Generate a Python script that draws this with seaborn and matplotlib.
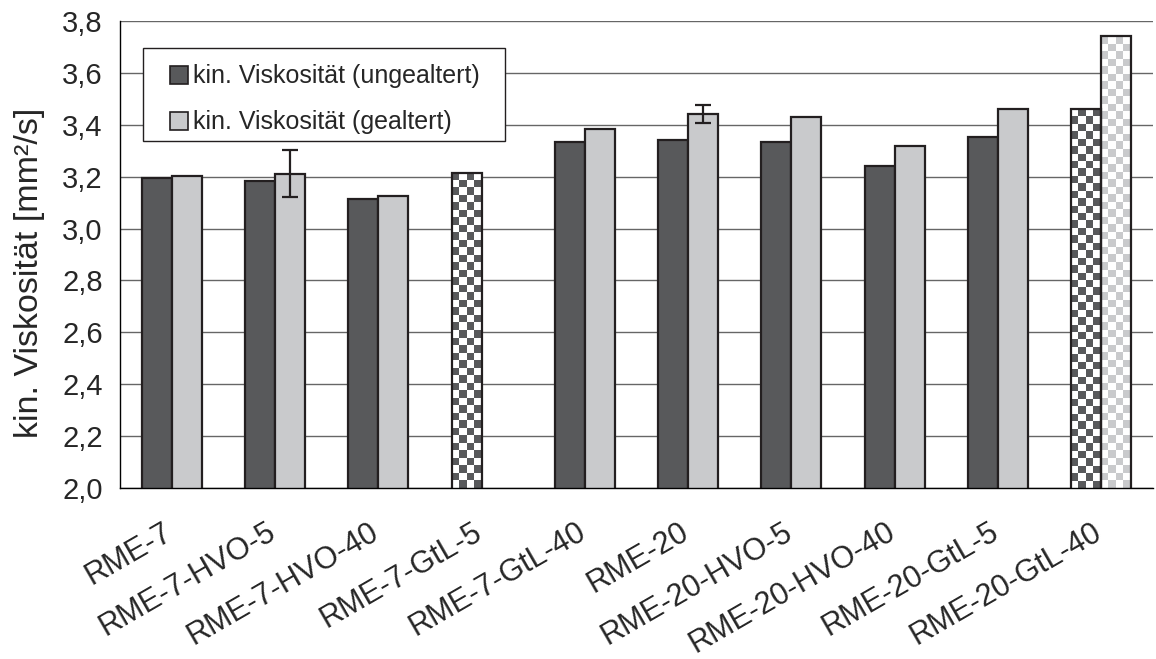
import numpy as np
import pandas as pd
import seaborn as sns
import matplotlib.pyplot as plt
import matplotlib.transforms as mtransforms
from matplotlib.colors import ListedColormap
from matplotlib.patches import Patch, Rectangle

categories = ['RME-7', 'RME-7-HVO-5', 'RME-7-HVO-40', 'RME-7-GtL-5', 'RME-7-GtL-40',
              'RME-20', 'RME-20-HVO-5', 'RME-20-HVO-40', 'RME-20-GtL-5', 'RME-20-GtL-40']
series = ['kin. Viskosität (ungealtert)', 'kin. Viskosität (gealtert)']
fresh = [3.195, 3.185, 3.115, 3.215, 3.333, 3.342, 3.333, 3.240, 3.352, 3.459]
aged = [3.202, 3.212, 3.127, np.nan, 3.383, 3.440, 3.429, 3.318, 3.460, 3.741]
aged_err = [0, 0.09, 0, 0, 0, 0.035, 0, 0, 0, 0]
checkered_fresh = ['RME-7-GtL-5', 'RME-20-GtL-40']
checkered_aged = ['RME-20-GtL-40']
yticks = [2.0, 2.2, 2.4, 2.6, 2.8, 3.0, 3.2, 3.4, 3.6, 3.8]
ylabel = 'kin. Viskosität [mm²/s]'

dark = '#58595b'
light = '#c9cacc'
edge = '#231f20'

df = pd.DataFrame({
    'Kraftstoff': categories * 2,
    'Serie': [series[0]] * len(categories) + [series[1]] * len(categories),
    'Wert': fresh + aged,
}).dropna()

sns.set_style('white')
plt.rcParams['font.family'] = ['Liberation Sans', 'DejaVu Sans']

fig = plt.figure(figsize=(11.56, 6.59), dpi=100)
ax = fig.add_axes([0.1038, 0.2595, 0.8935, 0.7087])

sns.barplot(data=df, x='Kraftstoff', y='Wert', hue='Serie', order=categories,
            hue_order=series, palette=[dark, light], width=0.58,
            edgecolor=edge, linewidth=1.6, saturation=1, legend=False, ax=ax)

ax.set_xlim(-0.5, len(categories) - 0.5)
ax.set_ylim(yticks[0], yticks[-1])

# map bars to (series, category) via their x positions
bars = {}
for si, cont in enumerate(ax.containers):
    for bar in cont:
        if np.isnan(bar.get_height()):
            continue
        ci = int(round(bar.get_x() + bar.get_width() / 2 - (si - 0.5) * 0.29))
        bars[(si, categories[ci])] = bar


def checker(bar, color):
    x0, w, h = bar.get_x(), bar.get_width(), bar.get_height()
    y0 = yticks[0]
    p0 = ax.transData.transform((x0, y0))
    p1 = ax.transData.transform((x0 + w, h))
    nx = 4
    cell = (p1[0] - p0[0]) / nx
    ny = max(1, int(round((p1[1] - p0[1]) / cell)))
    img = np.indices((ny, nx)).sum(axis=0) % 2
    im = ax.imshow(img, cmap=ListedColormap(['white', color]), extent=(x0, x0 + w, y0, h),
                   origin='lower', aspect='auto', interpolation='nearest',
                   zorder=bar.get_zorder() - 0.05)
    im.set_clip_path(bar)
    bar.set_facecolor('none')


for c in checkered_fresh:
    checker(bars[(0, c)], dark)
for c in checkered_aged:
    checker(bars[(1, c)], light)

# error bars on aged series
for c, e in zip(categories, aged_err):
    if e > 0 and (1, c) in bars:
        b = bars[(1, c)]
        ax.errorbar(b.get_x() + b.get_width() / 2, b.get_height(), yerr=e,
                    fmt='none', ecolor=edge, elinewidth=1.6, capsize=5.5, capthick=1.6, zorder=5)

ax.set_xlim(-0.5, len(categories) - 0.5)
ax.set_ylim(yticks[0], yticks[-1])

ax.set_yticks(yticks)
ax.set_yticklabels([f'{v:.1f}'.replace('.', ',') for v in yticks], fontsize=21)
ax.yaxis.grid(True, color='#666666', linewidth=1.0)
ax.set_axisbelow(True)

ax.set_xticks(range(len(categories)))
ax.set_xticklabels(categories, fontsize=22, rotation=30, ha='right', rotation_mode='anchor')
ax.set_xticks(np.arange(-0.5, len(categories), 1), minor=True)
ax.tick_params(axis='x', which='major', length=0, pad=21)
ax.tick_params(axis='x', which='minor', length=6, width=1, color='black', direction='out')
ax.tick_params(axis='y', length=6.5, width=1, color='black', direction='out', pad=6)
offset = mtransforms.ScaledTranslation(-0.09, 0, fig.dpi_scale_trans)
for lab in ax.get_xticklabels():
    lab.set_transform(lab.get_transform() + offset)

ax.set_xlabel('')
ax.set_ylabel(ylabel, fontsize=24.5)
ax.yaxis.set_label_coords(-0.073, 0.46)

for s in ['top', 'right']:
    ax.spines[s].set_visible(False)
for s in ['left', 'bottom']:
    ax.spines[s].set_color('black')
    ax.spines[s].set_linewidth(1.0)

handles = [Patch(facecolor=dark, edgecolor=edge, linewidth=1.2),
           Patch(facecolor=light, edgecolor=edge, linewidth=1.2)]
leg = ax.legend(handles, series, loc='upper left', bbox_to_anchor=(0.0483, 0.907),
                borderaxespad=0, borderpad=0, fontsize=18, frameon=False,
                handlelength=0.72, handleheight=0.72, handletextpad=0.2,
                labelspacing=0.88)
leg.set_zorder(6)

# legend frame with wider horizontal padding than matplotlib allows
fig.canvas.draw()
bb = leg.get_window_extent(fig.canvas.get_renderer())
frame = Rectangle((bb.x0 - 27, bb.y0 - 7), bb.width + 52, bb.height + 23,
                  transform=mtransforms.IdentityTransform(), facecolor='white',
                  edgecolor=edge, linewidth=1.0, zorder=5.5, clip_on=False)
ax.add_artist(frame)

fig.savefig('out.png', dpi=100)
